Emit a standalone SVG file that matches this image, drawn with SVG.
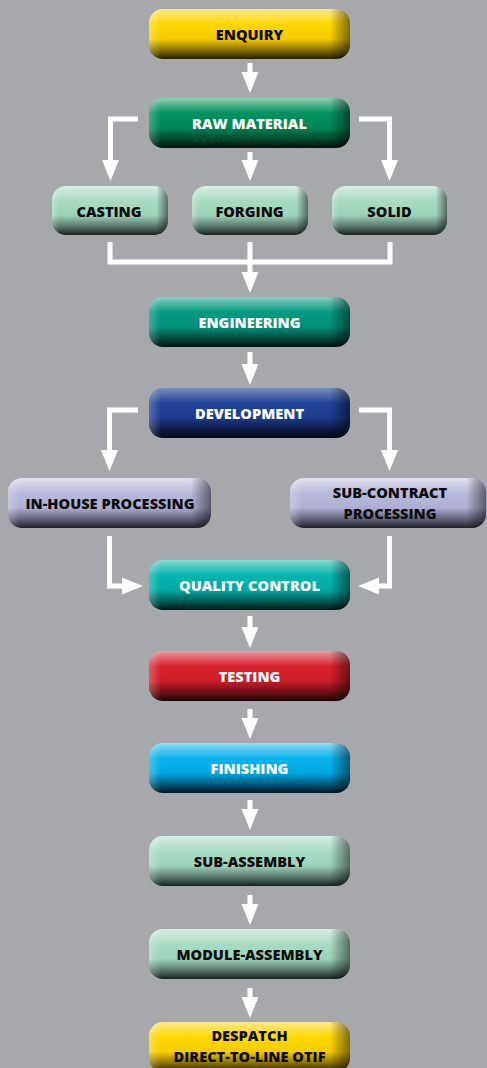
<svg xmlns="http://www.w3.org/2000/svg" width="487" height="1068" viewBox="0 0 487 1068">
<defs>
<style>
.lbl{font-family:"Open Sans","Liberation Sans",Arial,sans-serif;font-weight:800;font-size:14.6px;text-anchor:middle}
.dk{fill:#0d0d0d}
.wt{fill:#ffffff}
.con{fill:none;stroke:#ffffff;stroke-width:5;stroke-linejoin:miter;stroke-linecap:butt}
</style>
<marker id="ah" markerUnits="userSpaceOnUse" markerWidth="24" markerHeight="20" viewBox="0 -10 24 20" refX="11" refY="0" orient="auto">
<path d="M0,-8.5 L21,0 L0,8.5 Z" fill="#ffffff"/>
</marker>
<linearGradient id="gY" x1="0" y1="0" x2="0" y2="1">
<stop offset="0" stop-color="#fbe98c"/><stop offset="0.3" stop-color="#ffd800"/><stop offset="0.6" stop-color="#f4cc00"/><stop offset="0.84" stop-color="#7e6700"/><stop offset="1" stop-color="#241e00"/>
</linearGradient>
<linearGradient id="gG" x1="0" y1="0" x2="0" y2="1">
<stop offset="0" stop-color="#8ccfb1"/><stop offset="0.3" stop-color="#059160"/><stop offset="0.6" stop-color="#008556"/><stop offset="0.84" stop-color="#00432b"/><stop offset="1" stop-color="#00100a"/>
</linearGradient>
<linearGradient id="gL" x1="0" y1="0" x2="0" y2="1">
<stop offset="0" stop-color="#d7efe4"/><stop offset="0.3" stop-color="#a9dbc4"/><stop offset="0.6" stop-color="#9dd2ba"/><stop offset="0.84" stop-color="#527064"/><stop offset="1" stop-color="#18221e"/>
</linearGradient>
<linearGradient id="gE" x1="0" y1="0" x2="0" y2="1">
<stop offset="0" stop-color="#86cfbf"/><stop offset="0.3" stop-color="#049a82"/><stop offset="0.6" stop-color="#008f78"/><stop offset="0.84" stop-color="#00463a"/><stop offset="1" stop-color="#00100e"/>
</linearGradient>
<linearGradient id="gD" x1="0" y1="0" x2="0" y2="1">
<stop offset="0" stop-color="#7a8cc0"/><stop offset="0.3" stop-color="#23449a"/><stop offset="0.6" stop-color="#1d3b8b"/><stop offset="0.84" stop-color="#0d1a42"/><stop offset="1" stop-color="#040818"/>
</linearGradient>
<linearGradient id="gP" x1="0" y1="0" x2="0" y2="1">
<stop offset="0" stop-color="#e2e2f1"/><stop offset="0.3" stop-color="#b9b9dc"/><stop offset="0.6" stop-color="#aeaed4"/><stop offset="0.84" stop-color="#5c5c74"/><stop offset="1" stop-color="#202028"/>
</linearGradient>
<linearGradient id="gQ" x1="0" y1="0" x2="0" y2="1">
<stop offset="0" stop-color="#86dcd7"/><stop offset="0.3" stop-color="#05b5ae"/><stop offset="0.6" stop-color="#00aaa3"/><stop offset="0.84" stop-color="#005652"/><stop offset="1" stop-color="#001413"/>
</linearGradient>
<linearGradient id="gR" x1="0" y1="0" x2="0" y2="1">
<stop offset="0" stop-color="#ec9aa0"/><stop offset="0.3" stop-color="#d9222e"/><stop offset="0.6" stop-color="#cc1e29"/><stop offset="0.84" stop-color="#651015"/><stop offset="1" stop-color="#1c0304"/>
</linearGradient>
<linearGradient id="gB" x1="0" y1="0" x2="0" y2="1">
<stop offset="0" stop-color="#8edcf7"/><stop offset="0.3" stop-color="#0cb4ee"/><stop offset="0.6" stop-color="#00a8e2"/><stop offset="0.84" stop-color="#005575"/><stop offset="1" stop-color="#00141f"/>
</linearGradient>
<linearGradient id="side" x1="0" y1="0" x2="1" y2="0">
<stop offset="0" stop-color="#ffffff" stop-opacity="0.25"/><stop offset="0.06" stop-color="#ffffff" stop-opacity="0"/><stop offset="0.9" stop-color="#000000" stop-opacity="0"/><stop offset="1" stop-color="#000000" stop-opacity="0.5"/>
</linearGradient>
</defs>
<rect x="0" y="0" width="487" height="1068" fill="#a7a8ab"/>

<g id="connectors">
<path class="con" d="M250,63 V83" marker-end="url(#ah)"/>
<path class="con" d="M138,119 H110.5 V171" marker-end="url(#ah)"/>
<path class="con" d="M359,119 H389.5 V171" marker-end="url(#ah)"/>
<path class="con" d="M250,152 V171" marker-end="url(#ah)"/>
<path class="con" d="M110,242 V262 H390 V242"/>
<path class="con" d="M250,242 V283" marker-end="url(#ah)"/>
<path class="con" d="M250,352 V375" marker-end="url(#ah)"/>
<path class="con" d="M138,410 H109.5 V461" marker-end="url(#ah)"/>
<path class="con" d="M359,410 H389.5 V461" marker-end="url(#ah)"/>
<path class="con" d="M109.5,536 V586 H133" marker-end="url(#ah)"/>
<path class="con" d="M389.5,536 V586 H368" marker-end="url(#ah)"/>
<path class="con" d="M250,616 V638" marker-end="url(#ah)"/>
<path class="con" d="M250,709 V729" marker-end="url(#ah)"/>
<path class="con" d="M250,800 V820" marker-end="url(#ah)"/>
<path class="con" d="M250,895 V915" marker-end="url(#ah)"/>
<path class="con" d="M250,988 V1008" marker-end="url(#ah)"/>
</g>

<g id="enquiry"><rect x="149" y="9" width="201" height="50" rx="14" fill="url(#gY)"/><rect x="149" y="9" width="201" height="50" rx="14" fill="url(#side)"/><text class="lbl dk" x="249.5" y="40">ENQUIRY</text></g>
<g id="raw-material"><rect x="149" y="98" width="201" height="50" rx="14" fill="url(#gG)"/><rect x="149" y="98" width="201" height="50" rx="14" fill="url(#side)"/><text class="lbl wt" x="249.5" y="129">RAW MATERIAL</text></g>
<g id="casting"><rect x="52" y="186" width="116" height="49" rx="14" fill="url(#gL)"/><rect x="52" y="186" width="116" height="49" rx="14" fill="url(#side)"/><text class="lbl dk" x="109" y="217">CASTING</text></g>
<g id="forging"><rect x="192" y="186" width="116" height="49" rx="14" fill="url(#gL)"/><rect x="192" y="186" width="116" height="49" rx="14" fill="url(#side)"/><text class="lbl dk" x="249.5" y="217">FORGING</text></g>
<g id="solid"><rect x="332" y="186" width="115" height="49" rx="14" fill="url(#gL)"/><rect x="332" y="186" width="115" height="49" rx="14" fill="url(#side)"/><text class="lbl dk" x="389.5" y="217">SOLID</text></g>
<g id="engineering"><rect x="149" y="297" width="201" height="50" rx="14" fill="url(#gE)"/><rect x="149" y="297" width="201" height="50" rx="14" fill="url(#side)"/><text class="lbl wt" x="249.5" y="328">ENGINEERING</text></g>
<g id="development"><rect x="149" y="388" width="201" height="50" rx="14" fill="url(#gD)"/><rect x="149" y="388" width="201" height="50" rx="14" fill="url(#side)"/><text class="lbl wt" x="249.5" y="419">DEVELOPMENT</text></g>
<g id="in-house-processing"><rect x="8" y="478" width="203" height="50" rx="14" fill="url(#gP)"/><rect x="8" y="478" width="203" height="50" rx="14" fill="url(#side)"/><text class="lbl dk" x="110" y="509">IN-HOUSE PROCESSING</text></g>
<g id="sub-contract-processing"><rect x="290" y="478" width="196" height="50" rx="14" fill="url(#gP)"/><rect x="290" y="478" width="196" height="50" rx="14" fill="url(#side)"/><text class="lbl dk" x="390" y="498">SUB-CONTRACT</text><text class="lbl dk" x="390" y="519">PROCESSING</text></g>
<g id="quality-control"><rect x="149" y="560" width="201" height="50" rx="14" fill="url(#gQ)"/><rect x="149" y="560" width="201" height="50" rx="14" fill="url(#side)"/><text class="lbl wt" x="249.5" y="591">QUALITY CONTROL</text></g>
<g id="testing"><rect x="149" y="651" width="201" height="50" rx="14" fill="url(#gR)"/><rect x="149" y="651" width="201" height="50" rx="14" fill="url(#side)"/><text class="lbl wt" x="249.5" y="682">TESTING</text></g>
<g id="finishing"><rect x="149" y="743" width="201" height="50" rx="14" fill="url(#gB)"/><rect x="149" y="743" width="201" height="50" rx="14" fill="url(#side)"/><text class="lbl wt" x="249.5" y="774">FINISHING</text></g>
<g id="sub-assembly"><rect x="149" y="836" width="201" height="50" rx="14" fill="url(#gL)"/><rect x="149" y="836" width="201" height="50" rx="14" fill="url(#side)"/><text class="lbl dk" x="249.5" y="867">SUB-ASSEMBLY</text></g>
<g id="module-assembly"><rect x="149" y="929" width="201" height="50" rx="14" fill="url(#gL)"/><rect x="149" y="929" width="201" height="50" rx="14" fill="url(#side)"/><text class="lbl dk" x="249.5" y="960">MODULE-ASSEMBLY</text></g>
<g id="despatch"><rect x="149" y="1022" width="201" height="50" rx="14" fill="url(#gY)"/><rect x="149" y="1022" width="201" height="50" rx="14" fill="url(#side)"/><text class="lbl dk" x="249.5" y="1041">DESPATCH</text><text class="lbl dk" x="249.5" y="1062">DIRECT-TO-LINE OTIF</text></g>
</svg>
